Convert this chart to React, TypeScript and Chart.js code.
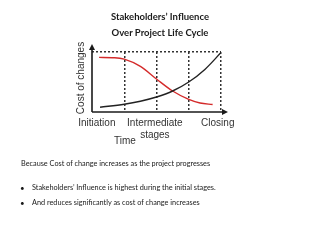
import React, { useEffect, useRef } from "react";
import { Chart, registerables } from "chart.js";

Chart.register(...registerables);

// ---- data ----
const titleLines = ["Stakeholders’ Influence", "Over Project Life Cycle"];
const stageLabels: (string | string[])[] = ["Initiation", ["Intermediate", "stages"], "Closing"];
const stageLabelPositions = [0.15, 1.95, 3.9];
const phaseBoundaries = [1, 2, 3, 4];
const costX = [0.25, 1, 1.5, 2, 2.5, 3, 3.5, 4];
const costY = [8, 13, 18, 25, 35, 50, 71, 99];
const influenceX = [0.22, 0.7, 1, 1.5, 2, 2.5, 3, 3.35, 3.74];
const influenceY = [91, 90.5, 88, 76, 55, 35, 21, 15, 12.5];
const yAxisTitle = "Cost of changes";
const xAxisTitle = "Time";
const noteText = "Because Cost of change increases as the project progresses";
const bulletTexts = [
  "Stakeholders’ Influence is highest during the initial stages.",
  "And reduces significantly as cost of change increases",
];

const AXIS_FONT = "'Liberation Sans', Arial, sans-serif";
const TEXT_FONT = "Lato, 'Open Sans', sans-serif";

const axesPlugin = {
  id: "axesArrows",
  afterDraw(chart: any) {
    const { ctx, chartArea } = chart;
    const { left, right, top, bottom } = chartArea;
    ctx.save();
    ctx.strokeStyle = "#1a1a1a";
    ctx.fillStyle = "#1a1a1a";
    ctx.lineWidth = 1.6;
    // y axis
    ctx.beginPath();
    ctx.moveTo(left, bottom);
    ctx.lineTo(left, top - 4);
    ctx.stroke();
    ctx.beginPath();
    ctx.moveTo(left, top - 8);
    ctx.lineTo(left - 3, top - 2);
    ctx.lineTo(left + 3, top - 2);
    ctx.closePath();
    ctx.fill();
    // x axis
    ctx.beginPath();
    ctx.moveTo(left, bottom);
    ctx.lineTo(right + 3, bottom);
    ctx.stroke();
    ctx.beginPath();
    ctx.moveTo(right + 7, bottom);
    ctx.lineTo(right + 1, bottom - 3);
    ctx.lineTo(right + 1, bottom + 3);
    ctx.closePath();
    ctx.fill();
    // axis titles
    ctx.fillStyle = "#333";
    ctx.font = `10px ${AXIS_FONT}`;
    ctx.textAlign = "center";
    ctx.textBaseline = "middle";
    ctx.fillText(xAxisTitle, left + 33, bottom + 29);
    ctx.translate(left - 11, (top + bottom) / 2 - 4);
    ctx.rotate(-Math.PI / 2);
    ctx.fillText(yAxisTitle, 0, 0);
    ctx.restore();
  },
};

export default function App() {
  const ref = useRef<HTMLCanvasElement>(null);

  useEffect(() => {
    if (!ref.current) return;
    const transparent = "rgba(0,0,0,0)";
    const chart = new Chart(ref.current, {
      type: "line",
      data: {
        datasets: [
          {
            label: "Cost of changes",
            data: costX.map((x, i) => ({ x, y: costY[i] })),
            borderColor: "#222222",
            borderWidth: 1.4,
            pointRadius: 0,
            cubicInterpolationMode: "monotone",
            fill: false,
          },
          {
            label: "Stakeholders’ Influence",
            data: influenceX.map((x, i) => ({ x, y: influenceY[i] })),
            borderColor: "#d42a2a",
            borderWidth: 1.4,
            pointRadius: 0,
            cubicInterpolationMode: "monotone",
            fill: false,
          },
        ],
      },
      options: {
        responsive: false,
        animation: false,
        events: [],
        layout: { padding: { left: 92, right: 99, top: 52, bottom: 94 } },
        plugins: { legend: { display: false }, tooltip: { enabled: false }, title: { display: false } },
        scales: {
          x: {
            type: "linear",
            min: 0,
            max: 4,
            afterBuildTicks: (s: any) => {
              s.ticks = [...phaseBoundaries, ...stageLabelPositions]
                .sort((a, b) => a - b)
                .map((v) => ({ value: v }));
            },
            ticks: {
              autoSkip: false,
              maxRotation: 0,
              minRotation: 0,
              padding: 5,
              color: "#333",
              font: { family: AXIS_FONT, size: 10 },
              callback: (v: any) => {
                const i = stageLabelPositions.indexOf(v);
                return i >= 0 ? stageLabels[i] : "";
              },
            },
            grid: {
              drawTicks: false,
              lineWidth: 1.5,
              color: (c: any) => (phaseBoundaries.includes(c.tick?.value) ? "#333" : transparent),
            },
            border: { display: false, dash: [2, 2] },
          },
          y: {
            type: "linear",
            min: 0,
            max: 100,
            afterBuildTicks: (s: any) => {
              s.ticks = [{ value: 0 }, { value: 100 }];
            },
            ticks: { display: false },
            grid: {
              drawTicks: false,
              lineWidth: 1.5,
              color: (c: any) => (c.tick?.value === 100 ? "#333" : transparent),
            },
            border: { display: false, dash: [2, 2] },
          },
        },
      },
      plugins: [axesPlugin],
    } as any);
    return () => chart.destroy();
  }, []);

  const textBase: React.CSSProperties = {
    position: "absolute",
    whiteSpace: "nowrap",
    fontFamily: TEXT_FONT,
    color: "#1a1a1a",
  };

  return (
    <div style={{ position: "absolute", left: 0, top: 0, width: 320, height: 240, background: "#fff", overflow: "hidden" }}>
      <canvas ref={ref} width={320} height={240} style={{ position: "absolute", left: 0, top: 0, display: "block" }} />
      {titleLines.map((t, i) => (
        <div
          key={t}
          style={{ ...textBase, left: 0, width: 320, textAlign: "center", top: 11 + i * 16, lineHeight: "12px", fontSize: 9.5, fontWeight: 700 }}
        >
          {t}
        </div>
      ))}
      <div style={{ ...textBase, left: 21, top: 159, lineHeight: "10px", fontSize: 7.3 }}>{noteText}</div>
      {bulletTexts.map((t, i) => (
        <React.Fragment key={t}>
          <div style={{ ...textBase, left: 20, top: 183 + i * 15, lineHeight: "10px", fontSize: 8 }}>•</div>
          <div style={{ ...textBase, left: 32, top: 183 + i * 15, lineHeight: "10px", fontSize: 7.3 }}>{t}</div>
        </React.Fragment>
      ))}
    </div>
  );
}
